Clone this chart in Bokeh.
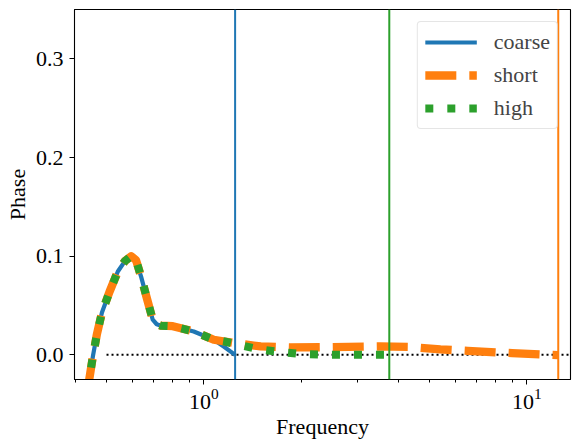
from bokeh.plotting import figure
from bokeh.models import Range1d, FixedTicker, Span, LogTickFormatter
from bokeh.embed import file_html
from bokeh.resources import INLINE

# ---- data ----
freq_common = [0.438, 0.443, 0.454, 0.467, 0.484, 0.511, 0.542, 0.570, 0.596, 0.617,
               0.640, 0.667, 0.695, 0.715, 0.738, 0.802, 0.931, 1.074]
phase_common = [-0.035, -0.023, -0.001, 0.021, 0.043, 0.064, 0.0845, 0.095, 0.100, 0.096,
                0.079, 0.057, 0.0356, 0.031, 0.0295, 0.029, 0.0237, 0.0153]

coarse_freq = freq_common + [1.158, 1.25]
coarse_phase = phase_common + [0.008, 0.0]

short_freq = freq_common + [1.16, 1.25, 1.5, 1.86, 2.5, 3.5, 4.3, 5.4, 6.56, 9.0, 12.5]
short_phase = phase_common + [0.0135, 0.0118, 0.0085, 0.0075, 0.0078, 0.0085, 0.0080,
                              0.0055, 0.0040, 0.0017, -0.0003]

high_freq = freq_common + [1.16, 1.25, 1.47, 1.71, 1.99, 2.4, 2.9, 3.4, 3.75]
high_phase = phase_common + [0.0135, 0.011, 0.0058, 0.003, 0.0008, 0.0, 0.0, 0.0, 0.0]

# Nyquist frequency of each series (coarse, short, high)
nyquist = [1.25, 12.5, 3.75]
zero_x = [0.5, 15.0]
zero_y = [0.0, 0.0]

labels = ["coarse", "short", "high"]
colors = ["#1f77b4", "#ff7f0e", "#2ca02c"]

x_ticks = [1, 10]
x_minor = [0.4, 0.5, 0.6, 0.7, 0.8, 0.9, 2, 3, 4, 5, 6, 7, 8, 9]
y_ticks = [0.0, 0.1, 0.2, 0.3]

FONT = "Liberation Serif"
FS = "22px"

p = figure(width=580, height=446, x_axis_type="log",
           x_range=Range1d(0.398, 13.64), y_range=Range1d(-0.025, 0.35),
           output_backend="svg", toolbar_location=None,
           min_border_left=74, min_border_right=10, min_border_top=9, min_border_bottom=67,
           x_axis_label="Frequency", y_axis_label="Phase")

p.xgrid.visible = False
p.ygrid.visible = False
p.outline_line_color = "black"
p.outline_line_width = 1.1
p.background_fill_color = "white"
p.border_fill_color = "white"

# zero reference line
p.line(zero_x, zero_y, line_color="black", line_width=2, line_dash="2 3")

p.line(coarse_freq, coarse_phase, line_color=colors[0], line_width=4.2,
       line_join="round", legend_label=labels[0])
p.line(short_freq, short_phase, line_color=colors[1], line_width=8.3,
       line_dash="31 13", line_join="round", legend_label=labels[1])
p.line(high_freq, high_phase, line_color=colors[2], line_width=8,
       line_dash="8 14", line_join="round", legend_label=labels[2])

for f, c in zip(nyquist, colors):
    p.add_layout(Span(location=f, dimension="height", line_color=c, line_width=2))

# axes
p.xaxis.ticker = FixedTicker(ticks=x_ticks, minor_ticks=x_minor)
p.xaxis.formatter = LogTickFormatter()
p.yaxis.ticker = FixedTicker(ticks=y_ticks, minor_ticks=[])
p.yaxis.major_label_overrides = {0.0: "0.0", 0.1: "0.1", 0.2: "0.2", 0.3: "0.3"}

for ax in (p.xaxis[0], p.yaxis[0]):
    ax.axis_line_color = "black"
    ax.major_tick_line_color = "black"
    ax.minor_tick_line_color = "black"
    ax.major_tick_in = 0
    ax.major_tick_out = 5
    ax.minor_tick_in = 0
    ax.minor_tick_out = 3
    ax.major_label_text_font = FONT
    ax.major_label_text_font_size = FS
    ax.major_label_text_color = "black"
    ax.axis_label_text_font = FONT
    ax.axis_label_text_font_size = FS
    ax.axis_label_text_font_style = "normal"
    ax.axis_label_text_color = "black"

p.yaxis.major_label_standoff = 6
p.yaxis.axis_label_standoff = 3
p.xaxis.major_label_standoff = 4
p.xaxis.axis_label_standoff = 2

lg = p.legend[0]
lg.location = "top_right"
lg.margin = 12
lg.padding = 7
lg.spacing = 7
lg.glyph_width = 52
lg.glyph_height = 22
lg.label_height = 22
lg.label_standoff = 17
lg.label_text_font = FONT
lg.label_text_font_size = FS
lg.border_line_color = "#cccccc"
lg.border_line_width = 1
lg.background_fill_alpha = 0.8
try:
    lg.border_radius = 4
except Exception:
    pass

open("out.html", "w").write(file_html(p, INLINE))
